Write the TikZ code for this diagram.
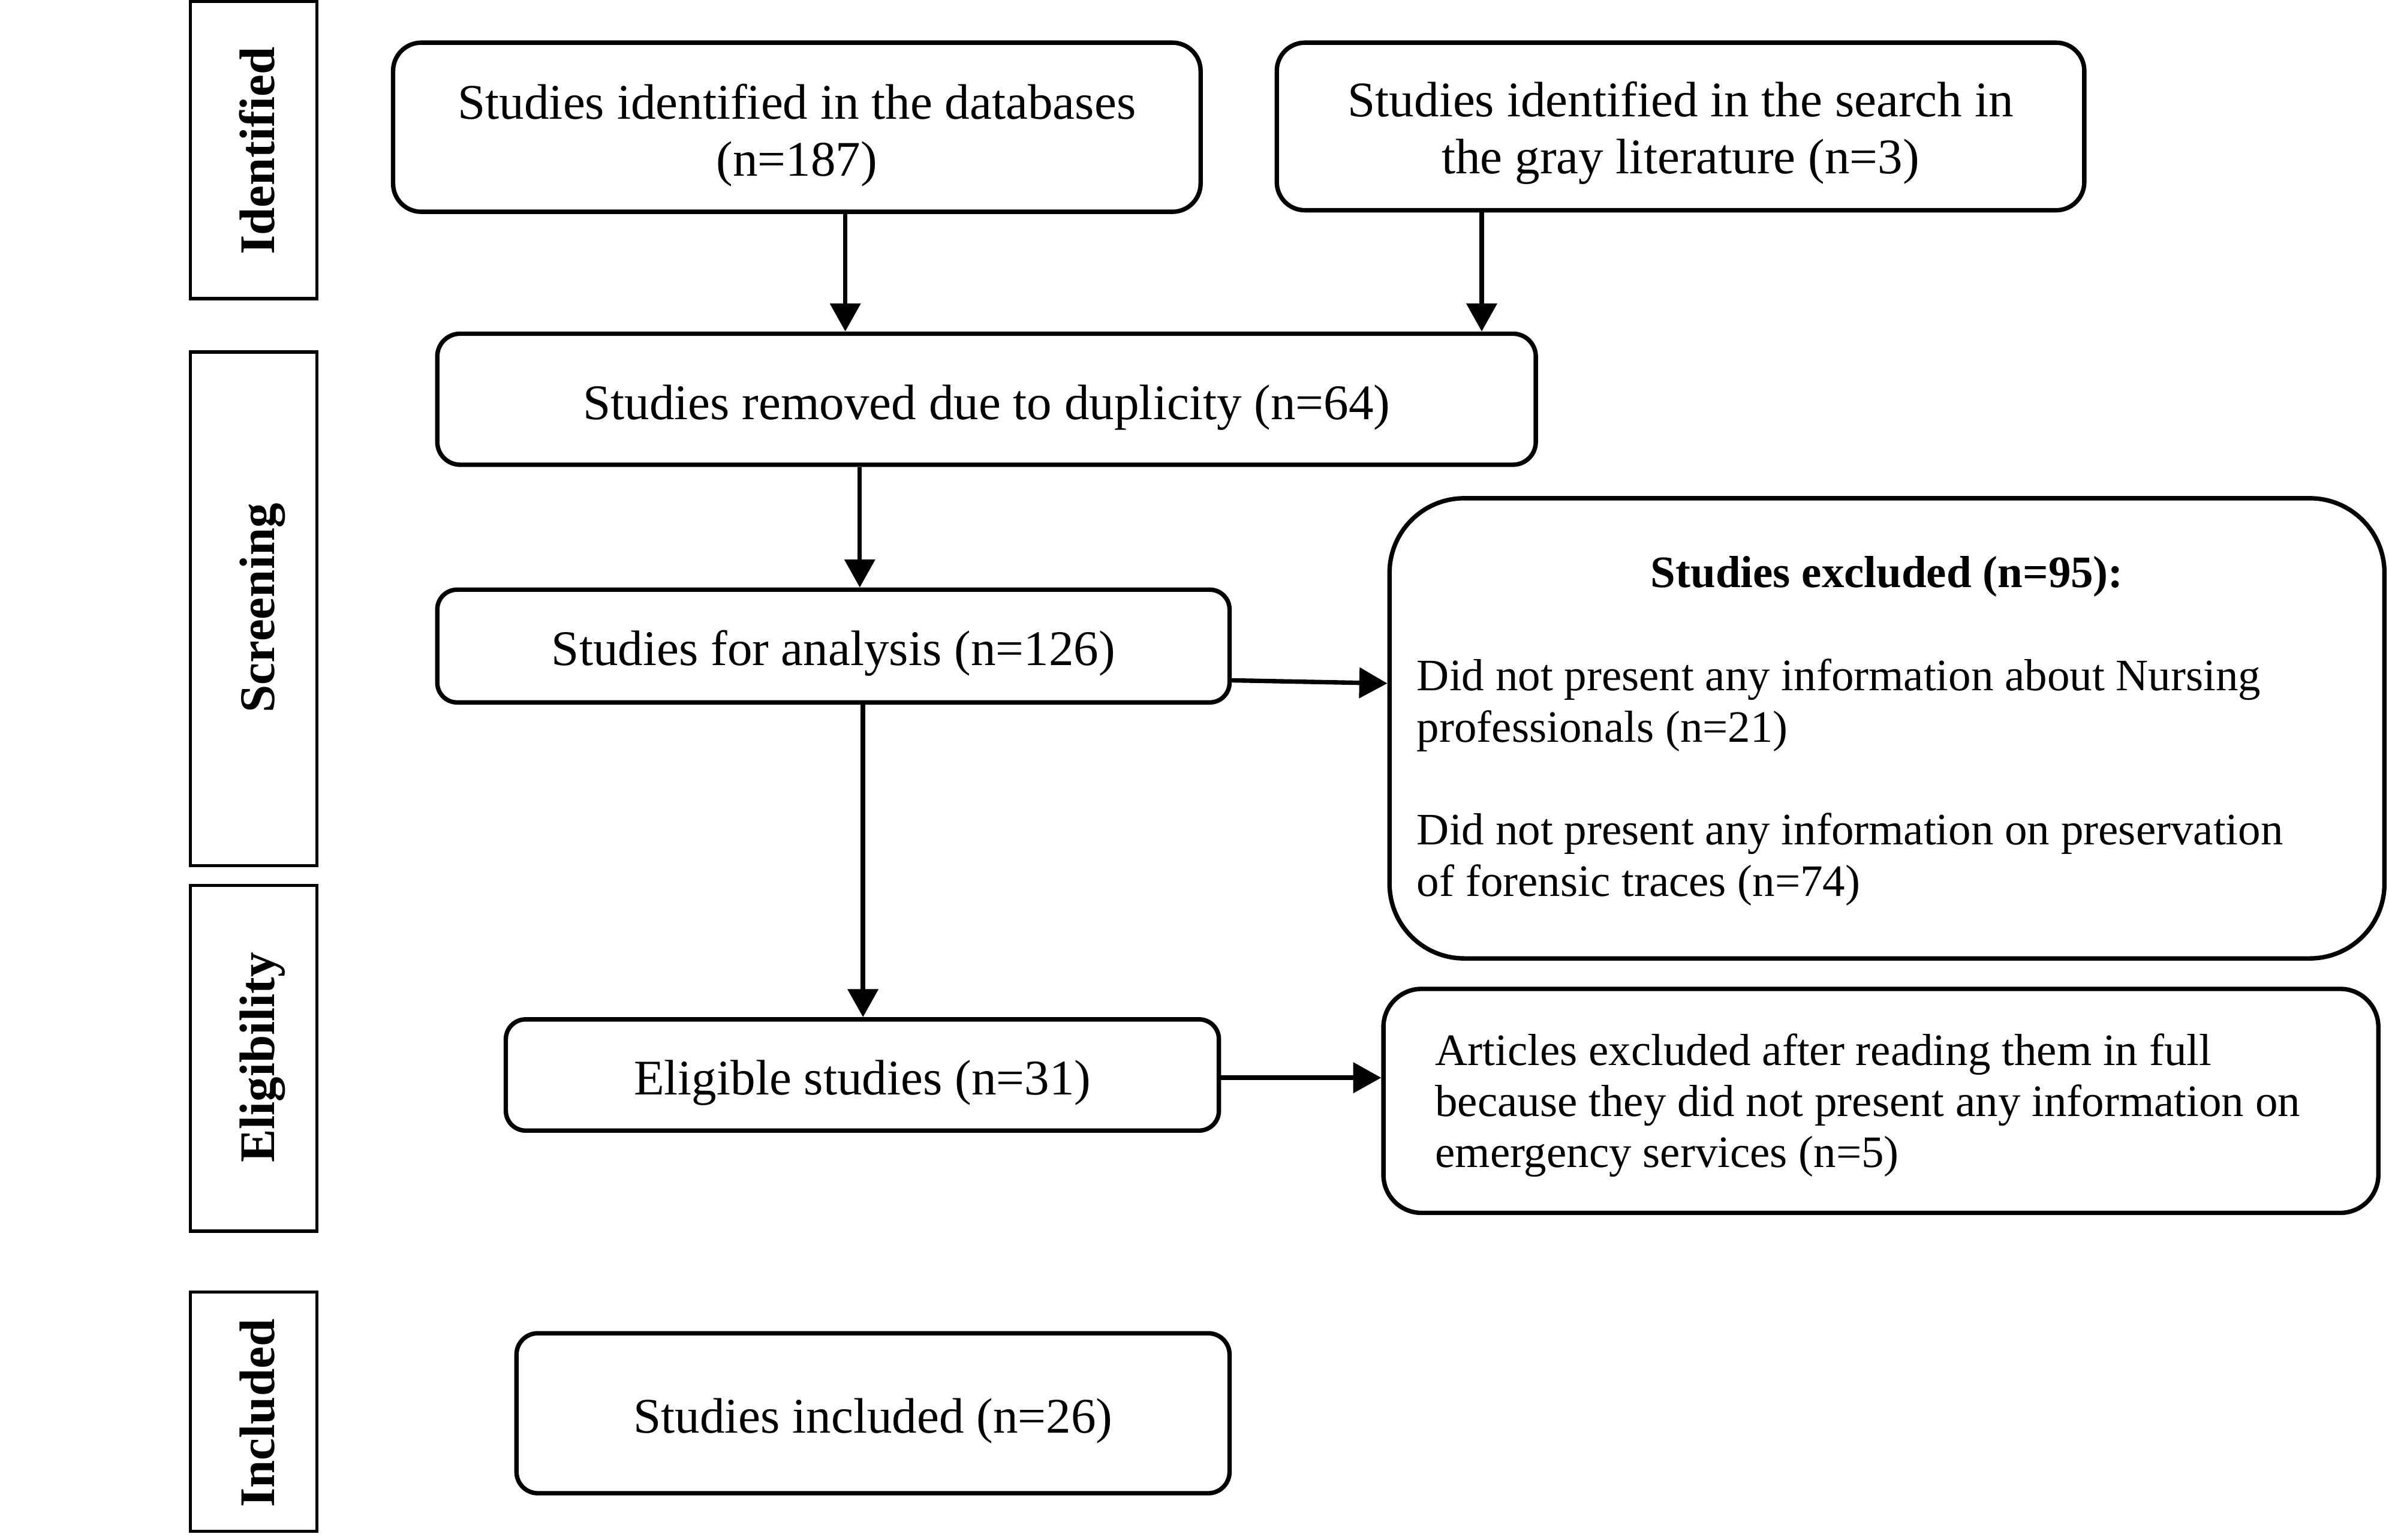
\documentclass[tikz,border=0pt]{standalone}
\usepackage{fontspec}
\setmainfont{Liberation Serif}
\usetikzlibrary{arrows.meta}
\newcommand\padtop[1]{\rule{0pt}{#1}}
\begin{document}
\begin{tikzpicture}[x=0.5pt,y=-0.5pt,
  box/.style={draw, line width=1.45pt, rounded corners=#1, align=center, inner sep=0pt,
              font=\fontsize{16.35}{18.8}\selectfont},
  box/.default=9pt,
  lab/.style={draw, line width=1.05pt, inner sep=0pt, minimum width=41.5pt},
  labtxt/.style={rotate=90, anchor=base, inner sep=0pt,
                 font=\fontsize{16.35}{18.8}\selectfont\bfseries},
  arr/.style={line width=1.45pt, -{Triangle[length=9.2pt,width=9.85pt]}},
]
\useasboundingbox (0,0) rectangle (1568,1010.6);

% phase labels
\node[lab, minimum height=97.5pt]  (L1) at (166.5,98.5)  {};
\node[lab, minimum height=168.5pt] (L2) at (166.5,399.5) {};
\node[lab, minimum height=113.5pt] (L3) at (166.5,694.5) {};
\node[lab, minimum height=78.5pt]  (L4) at (166.5,926.5) {};
\node[labtxt] (T1) at (180,99)    {Identified};
\node[labtxt] (T2) at (180,399)   {Screening};
\node[labtxt] (T3) at (180,694)   {Eligibility};
\node[labtxt] (T4) at (180,927.5) {Included};

% boxes
\node[box=9.25pt, minimum width=265pt, minimum height=55.5pt] (A) at (523,83.5)
  {\padtop{16.8pt}Studies identified in the databases\\(n=187)};
\node[box=9.25pt, minimum width=265pt, minimum height=55pt] (B) at (1103,83)
  {\padtop{15.8pt}Studies identified in the search in\\the gray literature (n=3)};
\node[box=7.5pt, minimum width=360.5pt, minimum height=43pt] (C) at (647.5,262)
  {\padtop{16.8pt}Studies removed due to duplicity (n=64)};
\node[box=6.5pt, minimum width=260pt, minimum height=37pt] (D) at (547,424)
  {\padtop{16.3pt}Studies for analysis (n=126)};
\node[box=24.5pt, minimum width=326.5pt, minimum height=151pt, text width=308.5pt,
      align=flush left, font=\fontsize{14.75}{16.9}\selectfont] (E) at (1238.5,478)
  {\padtop{12pt}\makebox[308.5pt]{\bfseries Studies excluded (n=95):}\\[16.9pt]
   Did not present any information about Nursing\\
   professionals (n=21)\\[16.9pt]
   Did not present any information on preservation\\
   of forensic traces (n=74)};
\node[box=6.5pt, minimum width=234pt, minimum height=36.5pt] (F) at (566,705.5)
  {\padtop{16.3pt}Eligible studies (n=31)};
\node[box=12.5pt, minimum width=326.5pt, minimum height=73.5pt, text width=292.5pt,
      align=flush left, font=\fontsize{14.75}{16.75}\selectfont] (G) at (1234.5,722.5)
  {\padtop{13.2pt}Articles excluded after reading them in full\\
   because they did not present any information on\\
   emergency services (n=5)};
\node[box=7pt, minimum width=234pt, minimum height=52.5pt] (H) at (573,927.5)
  {\padtop{16.3pt}Studies included (n=26)};

% connector guides
\coordinate (x1) at (554.8,0);
\coordinate (x2) at (972.5,0);
\coordinate (x3) at (564.3,0);
\coordinate (x4) at (566.4,0);
\coordinate (y1) at (0,446.5);
\coordinate (y2) at (0,448.5);
\coordinate (y3) at (0,707.3);

\draw[arr] (A.south -| x1) -- (C.north -| x1);
\draw[arr] (B.south -| x2) -- (C.north -| x2);
\draw[arr] (C.south -| x3) -- (D.north -| x3);
\draw[arr] (D.south -| x4) -- (F.north -| x4);
\draw[arr] (D.east |- y1) -- (E.west |- y2);
\draw[arr] (F.east |- y3) -- (G.west |- y3);
\end{tikzpicture}
\end{document}
